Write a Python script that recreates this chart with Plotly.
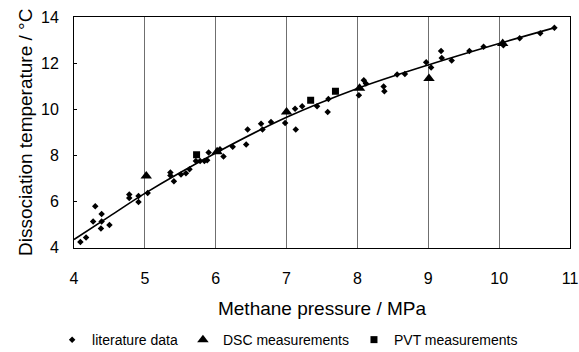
import plotly.graph_objects as go

# Literature data (methane pressure MPa, dissociation temperature °C)
lit_x = [4.09, 4.17, 4.27, 4.30, 4.38, 4.39, 4.39, 4.50, 4.78, 4.78, 4.91, 4.91, 5.04,
         5.36, 5.36, 5.41, 5.51, 5.58, 5.63, 5.72, 5.78, 5.84, 5.88, 5.90, 6.06, 6.11,
         6.24, 6.43, 6.45, 6.64, 6.66, 6.78, 6.98, 7.12, 7.13, 7.22, 7.43, 7.59, 7.58,
         8.02, 8.09, 8.12, 8.37, 8.38, 8.56, 8.67, 8.97, 9.04, 9.18, 9.19, 9.33, 9.58,
         9.78, 10.06, 10.29, 10.58, 10.78]
lit_y = [4.24, 4.43, 5.13, 5.79, 4.83, 5.13, 5.45, 4.98, 6.30, 6.15, 6.24, 5.97, 6.37,
         7.25, 7.12, 6.88, 7.17, 7.22, 7.40, 7.75, 7.75, 7.75, 7.79, 8.12, 8.26, 7.95,
         8.37, 8.47, 9.12, 9.37, 9.12, 9.44, 9.40, 10.02, 9.12, 10.13, 10.13, 10.44, 9.88,
         10.61, 11.26, 11.12, 10.98, 10.78, 11.51, 11.53, 12.04, 11.81, 12.53, 12.22, 12.11, 12.53,
         12.71, 12.77, 13.08, 13.29, 13.53]

# DSC measurements
dsc_x = [5.02, 6.02, 7.00, 8.03, 9.01, 10.05]
dsc_y = [7.10, 8.16, 9.88, 10.91, 11.33, 12.85]

# PVT measurements
pvt_x = [5.73, 7.34, 7.69]
pvt_y = [8.02, 10.39, 10.78]

# Fitted curve
fit_x = [4.0, 4.5, 5.0, 6.0, 7.0, 8.0, 9.0, 10.0, 10.8]
fit_y = [4.35, 5.35, 6.35, 8.10, 9.65, 10.90, 11.92, 12.85, 13.55]

x_ticks = [4, 5, 6, 7, 8, 9, 10, 11]
y_ticks = [4, 6, 8, 10, 12, 14]

fig = go.Figure()
fig.add_trace(go.Scatter(x=fit_x, y=fit_y, mode="lines", line=dict(color="black", width=1.6, shape="spline"),
                         showlegend=False, hoverinfo="skip"))
fig.add_trace(go.Scatter(x=lit_x, y=lit_y, mode="markers", name="literature data",
                         marker=dict(symbol="diamond", size=5, color="black")))
fig.add_trace(go.Scatter(x=dsc_x, y=dsc_y, mode="markers", name="DSC measurements",
                         marker=dict(symbol="triangle-up", size=10, color="black")))
fig.add_trace(go.Scatter(x=pvt_x, y=pvt_y, mode="markers", name="PVT measurements",
                         marker=dict(symbol="square", size=7, color="black")))

font_family = "Liberation Sans, Arial, sans-serif"
fig.update_layout(
    width=579, height=352,
    margin=dict(l=74, r=9, t=17, b=93),
    paper_bgcolor="white", plot_bgcolor="white",
    font=dict(family=font_family, color="black", size=16),
    legend=dict(orientation="h", xref="container", x=0.09, xanchor="left",
                yref="container", y=0.034, yanchor="middle",
                font=dict(size=14), itemwidth=30, tracegroupgap=0, bgcolor="rgba(0,0,0,0)"),
    xaxis=dict(range=[4, 11], tickvals=x_ticks, ticktext=[str(v) for v in x_ticks],
               showgrid=True, gridcolor="#6f6f6f", gridwidth=1,
               showline=True, linecolor="black", linewidth=1, mirror=True, automargin="bottom",
               ticks="", ticklabelstandoff=16, ticklabeloverflow="allow", zeroline=False,
               tickfont=dict(size=16),
               title=dict(text="Methane pressure / MPa", font=dict(size=19), standoff=15)),
    yaxis=dict(range=[4, 14], tickvals=y_ticks, ticktext=[str(v) for v in y_ticks],
               showgrid=False,
               showline=True, linecolor="black", linewidth=1, mirror=True, automargin="left",
               ticks="inside", ticklen=3, tickcolor="black", ticklabelstandoff=11, zeroline=False,
               tickfont=dict(size=16),
               title=dict(text="Dissociation temperature / °C", font=dict(size=19), standoff=3)),
)

fig.write_html("out.html", config={"displayModeBar": False},
               post_script="document.body.style.margin='0';")
